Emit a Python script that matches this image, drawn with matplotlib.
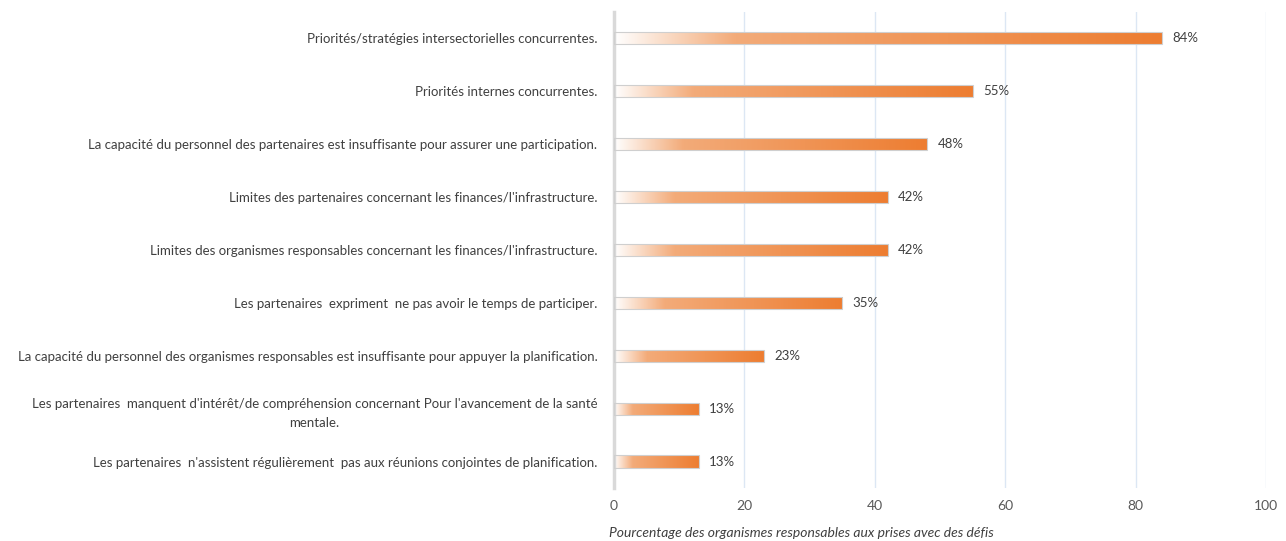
import numpy as np
import matplotlib.pyplot as plt
from matplotlib.colors import LinearSegmentedColormap

plt.rcParams['font.family'] = ['Lato', 'DejaVu Sans']

categories = [
    "Priorités/stratégies intersectorielles concurrentes.",
    "Priorités internes concurrentes.",
    "La capacité du personnel des partenaires est insuffisante pour assurer une participation.",
    "Limites des partenaires concernant les finances/l'infrastructure.",
    "Limites des organismes responsables concernant les finances/l'infrastructure.",
    "Les partenaires  expriment  ne pas avoir le temps de participer.",
    "La capacité du personnel des organismes responsables est insuffisante pour appuyer la planification.",
    "Les partenaires  manquent d'intérêt/de compréhension concernant Pour l'avancement de la santé\nmentale.",
    "Les partenaires  n'assistent régulièrement  pas aux réunions conjointes de planification.",
]
values = [84, 55, 48, 42, 42, 35, 23, 13, 13]
xticks = [0, 20, 40, 60, 80, 100]
xlabel = "Pourcentage des organismes responsables aux prises avec des défis"

text_col = "#404040"
bar_h = 0.23

# white -> light orange -> orange gradient along each bar
grad_cmap = LinearSegmentedColormap.from_list(
    "orange_fade",
    [(0.0, "#FFFFFF"), (0.22, "#F3AB79"), (1.0, "#ED7D31")],
)
grad = np.linspace(0, 1, 256).reshape(1, -1)

fig = plt.figure(figsize=(12.86, 5.41), dpi=100)
ax = fig.add_axes([0.4774, 0.098, 0.5070, 0.880])

n = len(categories)
ypos = np.arange(n)[::-1]

for y, v in zip(ypos, values):
    bar = ax.barh(y, v, height=bar_h, facecolor="none", edgecolor="#CFCFCF",
                  linewidth=0.8, zorder=3)[0]
    im = ax.imshow(grad, cmap=grad_cmap, aspect="auto", interpolation="bilinear",
                   extent=[0, v, y - bar_h / 2 - 0.05, y + bar_h / 2 + 0.05],
                   zorder=2)
    im.set_clip_path(bar)
    ax.text(v + 1.6, y, f"{v}%", va="center", ha="left",
            fontsize=9.5, color=text_col)

ax.set_xlim(0, 100)
ax.set_ylim(-0.5, n - 0.5)
ax.set_yticks(ypos)
ax.set_yticklabels(categories, fontsize=9.5, color=text_col,
                   multialignment="center", linespacing=1.7)
ax.set_xticks(xticks)
ax.set_xticklabels([str(t) for t in xticks], fontsize=10, color="#595959")
ax.tick_params(axis="both", length=0)
ax.tick_params(axis="y", pad=12)
ax.tick_params(axis="x", pad=9)

ax.grid(axis="x", color="#DCE7F4", linewidth=1, zorder=0)
ax.set_axisbelow(True)
for side in ("top", "right", "bottom"):
    ax.spines[side].set_visible(False)
ax.spines["left"].set_color("#D9D9D9")
ax.spines["left"].set_linewidth(2.5)

ax.set_xlabel(xlabel, fontsize=10, style="italic", color=text_col)
ax.xaxis.set_label_coords(0.287, -0.083)

fig.savefig("out.png", dpi=100)
